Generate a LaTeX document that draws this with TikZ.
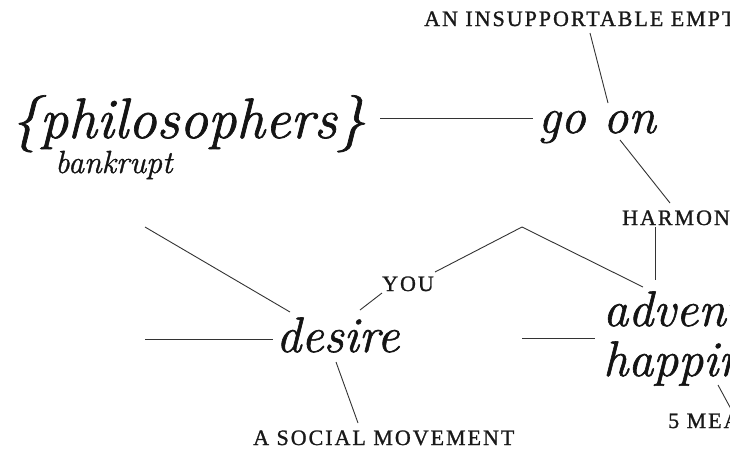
\documentclass[tikz,border=0pt]{standalone}
\usepackage{fontspec}
\newfontfamily\capsfont[LetterSpace=9]{Liberation Serif}
\newcommand\wordfont[1]{\fontsize{#1}{#1}\selectfont\itshape}
\newcommand\heavytext[2]{\special{pdf:literal direct 2 Tr #1 w}#2\special{pdf:literal direct 0 Tr}}
\begin{document}
\begin{tikzpicture}[x=1pt,y=-1pt,
  word/.style={anchor=base west, inner sep=0pt, text=black!92, font={\wordfont{50}}},
  lab/.style={anchor=base west, inner sep=0pt, text=black!90, font={\capsfont\fontsize{22}{22}\selectfont}},
  conn/.style={line width=0.9pt, draw=black!80}]
\useasboundingbox (0,0) rectangle (730,448);
\clip (0,0) rectangle (730,448);
% words
\node[word, font={\wordfont{57}}] (phil) at (11,138) {\heavytext{0.7}{\{philosophers\}}};
\node[word, font={\wordfont{32}}] (bank) at (55,173) {\heavytext{0.35}{bankrupt}};
\node[word] (goon) at (538,133) {\heavytext{0.6}{go on}};
\node[word] (desire) at (276,352) {\heavytext{0.6}{desire}};
\node[word] (adv) at (603,326) {\heavytext{0.6}{adventure}};
\node[word] (hap) at (603,376) {\heavytext{0.6}{happiness}};
% labels
\node[lab] (empt) at (424,26) {\heavytext{0.25}{AN INSUPPORTABLE EMPTINESS}};
\node[lab] (harm) at (622,225) {\heavytext{0.25}{HARMONY}};
\node[lab] (you) at (382,291) {\heavytext{0.25}{YOU}};
\node[lab] (soc) at (253,445) {\heavytext{0.25}{A SOCIAL MOVEMENT}};
\node[lab] (means) at (668,428) {\heavytext{0.25}{\oldstylenums{5} MEANS}};
% connector end points
\coordinate (philE) at (380,118);
\coordinate (goonW) at (533,118);
\coordinate (emptS) at (590,33);
\coordinate (goonN) at (608,103);
\coordinate (goonSE) at (620,140);
\coordinate (harmN) at (670,203);
\coordinate (harmS) at (655,227);
\coordinate (advN) at (655,280);
\coordinate (youNE) at (435,272);
\coordinate (apex) at (522,227);
\coordinate (advNW) at (643,287);
\coordinate (youSW) at (382,293);
\coordinate (desireN) at (360,310);
\coordinate (freeA) at (145,227);
\coordinate (desireNW) at (290,312);
\coordinate (freeB) at (145,339);
\coordinate (desireW) at (273,339);
\coordinate (desireS) at (336,362);
\coordinate (socN) at (358,423);
\coordinate (freeC) at (522,338);
\coordinate (advW) at (595,338);
\coordinate (hapS) at (718,385);
\coordinate (meansN) at (731,409);
% connectors
\draw[conn] (philE) -- (goonW);
\draw[conn] (emptS) -- (goonN);
\draw[conn] (goonSE) -- (harmN);
\draw[conn] (harmS) -- (advN);
\draw[conn] (youNE) -- (apex) -- (advNW);
\draw[conn] (youSW) -- (desireN);
\draw[conn] (freeA) -- (desireNW);
\draw[conn] (freeB) -- (desireW);
\draw[conn] (desireS) -- (socN);
\draw[conn] (freeC) -- (advW);
\draw[conn] (hapS) -- (meansN);
\end{tikzpicture}
\end{document}
